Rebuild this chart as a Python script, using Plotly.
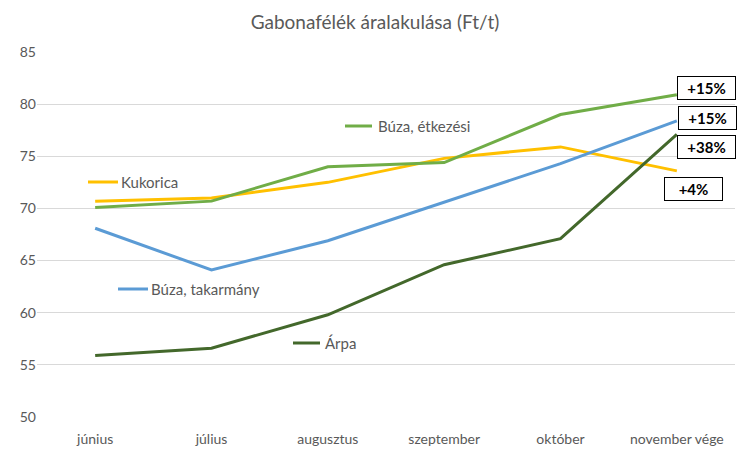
import plotly.graph_objects as go

months = ["június", "július", "augusztus", "szeptember", "október", "november vége"]
buza_etk = [70.1, 70.7, 74.0, 74.4, 79.0, 80.9]
kukorica = [70.7, 71.0, 72.5, 74.8, 75.9, 73.6]
buza_tak = [68.1, 64.1, 66.9, 70.6, 74.3, 78.4]
arpa = [55.9, 56.6, 59.8, 64.6, 67.1, 77.1]

names = ["Búza, étkezési", "Kukorica", "Búza, takarmány", "Árpa"]
colors = ["#70AD47", "#FFC000", "#5B9BD5", "#43682B"]
series = [buza_etk, kukorica, buza_tak, arpa]
changes = ["+15%", "+4%", "+15%", "+38%"]

W, H = 750, 463
L, R, T, B = 37, 15, 52, 46
PW, PH = W - L - R, H - T - B

def px(x):
    return (x - L) / PW

def py(y):
    return (H - B - y) / PH

fig = go.Figure()
# draw order: behind to front
for idx in [1, 2, 0, 3]:
    fig.add_trace(go.Scatter(x=months, y=series[idx], mode="lines", name=names[idx],
                             line=dict(color=colors[idx], width=3), showlegend=False))

font = "Lato, 'Open Sans', sans-serif"
txtcol = "#595959"

# inline legend labels: (line x0, x1, y, text x)
leg = {
    "Búza, étkezési": (345, 372, 126, 376),
    "Kukorica": (88, 118, 182, 119),
    "Búza, takarmány": (118, 148, 289, 149),
    "Árpa": (293, 320, 343, 323),
}
shapes = []
annotations = []
for name, col in zip(names, colors):
    x0, x1, y, tx = leg[name]
    shapes.append(dict(type="line", xref="paper", yref="paper", x0=px(x0), x1=px(x1),
                       y0=py(y), y1=py(y), line=dict(color=col, width=3)))
    annotations.append(dict(text=name, xref="paper", yref="paper", x=px(tx), y=py(y),
                            xanchor="left", yanchor="middle", showarrow=False,
                            font=dict(family=font, size=15, color=txtcol)))

# change boxes: (center x, center y)
boxpos = {"Búza, étkezési": (706, 88), "Búza, takarmány": (707, 118),
          "Árpa": (706, 147), "Kukorica": (693, 189)}
for name, ch in zip(names, changes):
    cx, cy = boxpos[name]
    annotations.append(dict(text="<b>" + ch + "</b>", xref="paper", yref="paper",
                            x=px(cx), y=py(cy), xanchor="center", yanchor="middle",
                            showarrow=False, bgcolor="white", bordercolor="#000000",
                            borderwidth=1, borderpad=2, width=53, height=18,
                            font=dict(family=font, size=15, color="#000000")))

fig.update_layout(
    width=W, height=H,
    margin=dict(l=L, r=R, t=T, b=B),
    paper_bgcolor="white", plot_bgcolor="white",
    title=dict(text="Gabonafélék áralakulása (Ft/t)", x=0.5, xanchor="center",
               y=1 - 22 / H, yanchor="middle",
               font=dict(family=font, size=19, color=txtcol)),
    shapes=shapes, annotations=annotations,
    xaxis=dict(type="category", range=[-0.5, 5.5], showgrid=False, showline=False,
               zeroline=False, ticks="", ticklabelstandoff=12,
               tickfont=dict(family=font, size=14, color=txtcol)),
    yaxis=dict(range=[50, 85], dtick=5, showgrid=True, gridcolor="#D9D9D9", gridwidth=1,
               zeroline=False, showline=False, ticks="",
               tickfont=dict(family=font, size=14, color=txtcol)),
)

fig.write_html("out.html")
